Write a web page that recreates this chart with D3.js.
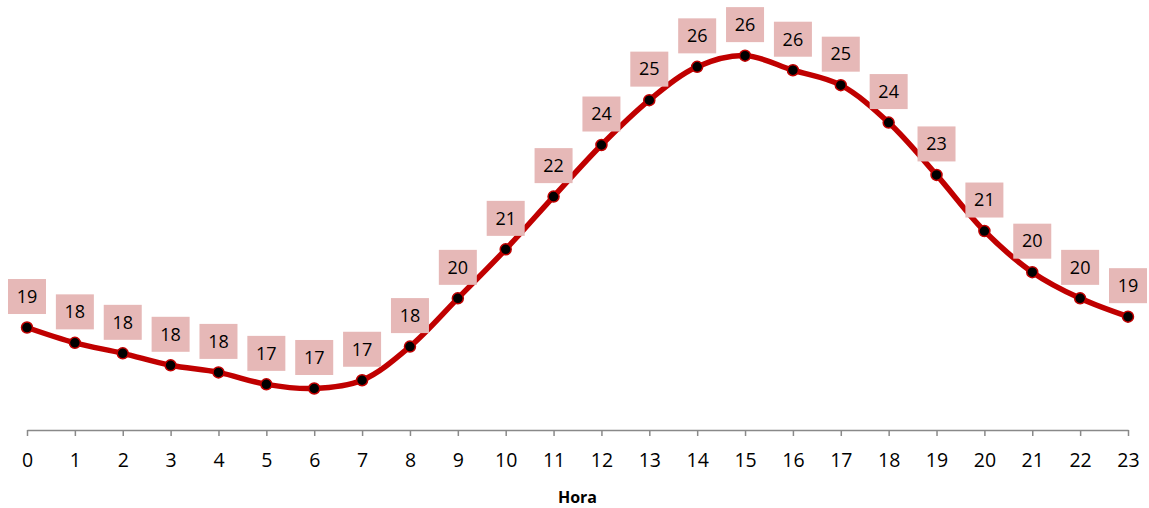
<!DOCTYPE html>
<html>
<head>
<meta charset="utf-8">
<script src="https://cdn.jsdelivr.net/npm/d3@7"></script>
<style>
  html, body { margin: 0; padding: 0; background: #fff; }
  svg { display: block; }
</style>
</head>
<body>
<svg id="chart" width="1149" height="508"></svg>
<script>
const hours = [0,1,2,3,4,5,6,7,8,9,10,11,12,13,14,15,16,17,18,19,20,21,22,23];
const temps = [18.74,18.33,18.05,17.73,17.54,17.22,17.11,17.33,18.23,19.52,20.83,22.24,23.62,24.82,25.71,26.01,25.62,25.22,24.22,22.82,21.32,20.22,19.52,19.03];
const xTitle = "Hora";

const svg = d3.select("#chart");
const font = "'Open Sans', 'Noto Sans', sans-serif";

const x = d3.scalePoint().domain(hours).range([27, 1128]);
const y = d3.scaleLinear().domain([16, 27]).range([430, 18.6]);

// x axis
const axis = d3.axisBottom(x).tickSize(6).tickSizeOuter(0).tickPadding(17);
const gx = svg.append("g").attr("transform", "translate(0,430)").call(axis);
gx.select(".domain").attr("stroke", "#898989").attr("stroke-width", 1.5);
gx.selectAll(".tick line").attr("stroke", "#898989").attr("stroke-width", 1.5);
gx.selectAll(".tick text").attr("fill", "#000").style("font-family", font).style("font-size", "19.5px");

svg.append("text")
  .attr("x", (x(0) + x(23)) / 2).attr("y", 503)
  .attr("text-anchor", "middle")
  .style("font-family", font).style("font-size", "16px").style("font-weight", "bold")
  .text(xTitle);

// line
const line = d3.line().x((d, i) => x(hours[i])).y(d => y(d)).curve(d3.curveCatmullRom.alpha(0.5));
svg.append("path").datum(temps)
  .attr("d", line).attr("fill", "none")
  .attr("stroke", "#C00000").attr("stroke-width", 5.5).attr("stroke-linejoin", "round");

// markers
svg.append("g").selectAll("circle").data(temps).join("circle")
  .attr("cx", (d, i) => x(hours[i])).attr("cy", d => y(d))
  .attr("r", 5.5).attr("fill", "#000").attr("stroke", "#C00000").attr("stroke-width", 1.5);

// labels
const lg = svg.append("g").selectAll("g").data(temps).join("g")
  .attr("transform", (d, i) => `translate(${x(hours[i])},${y(d) - 31})`);
lg.append("rect").attr("x", -19).attr("y", -17.5).attr("width", 38).attr("height", 35).attr("fill", "#E6B8B7");
lg.append("text").attr("text-anchor", "middle").attr("dy", "0.35em")
  .style("font-family", font).style("font-size", "18px").attr("fill", "#000")
  .text(d => Math.round(d));
</script>
</body>
</html>
